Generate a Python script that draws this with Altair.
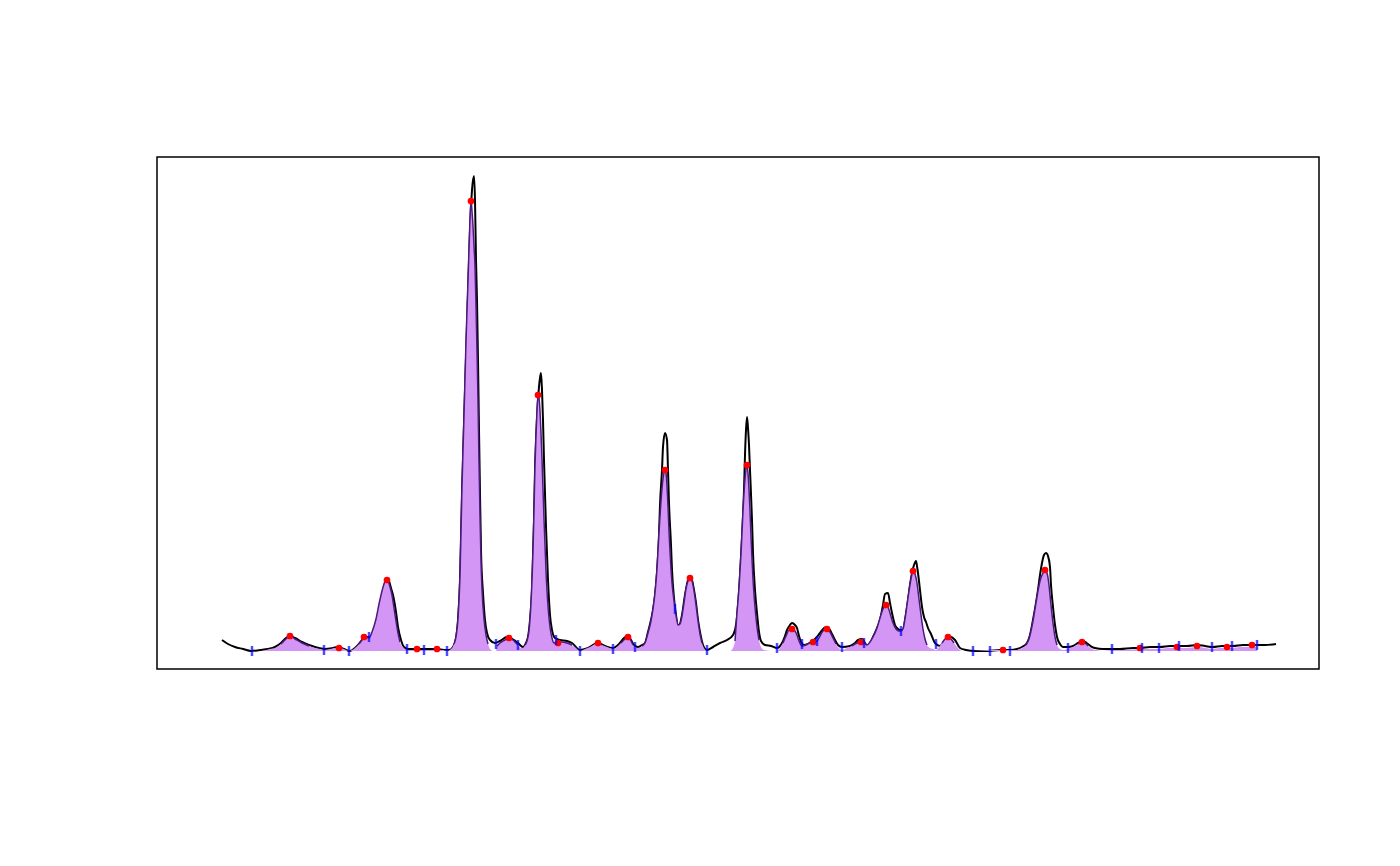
import altair as alt
import pandas as pd

# Chromatogram trace (time, signal)
time = [222,228,235,243,251,260,268,275,281,286,290,295,302,309,315,325,333,338,344,350,
        355,359,362,366,370,374,378,382,385,387,389,391,393,396,398,401,404,408,417,427,
        437,444,449,453,456,458,460,462,465,468,470,472,474,475,476,477,478,479,480,481,
        483,485,487,490,495,500,507,512,518,523,526,528,530,532,534,535,536,538,540,541,
        542,543,544,546,548,550,552,555,560,567,572,580,588,598,605,613,620,624,628,631,
        634,638,642,645,648,651,653,655,657,659,660,662,663,665,667,668,669,671,672,674,
        676,678,680,682,685,688,690,692,694,696,698,700,703,707,713,720,727,733,736,738,
        740,742,744,745,746,747,748,749,750,752,753,755,757,759,761,765,771,777,782,785,
        787,790,792,795,797,799,801,804,808,815,820,824,827,830,832,835,838,842,850,855,
        858,862,865,867,870,873,877,880,883,885,888,890,892,895,897,900,903,905,908,910,
        912,914,916,917,918,920,922,924,926,928,931,935,940,944,948,951,955,960,966,975,
        987,1000,1010,1017,1022,1027,1030,1033,1036,1038,1040,1042,1044,1046,1048,1050,1051,1053,1055,1057,
        1060,1063,1068,1073,1078,1082,1085,1088,1092,1095,1103,1110,1120,1133,1140,1150,1160,1170,1177,1187,
        1197,1205,1213,1222,1233,1243,1253,1265,1276]
signal = [11,7,4,2,0,1,2,4,8,13,15,13,9,6,4,2,3,4,2,0,
          3,7,11,14,14,21,37,56,68,72,70,63,56,39,24,11,4,2,2,2,
          2,1,1,4,13,31,71,158,261,358,421,461,475,451,391,351,291,221,158,101,
          58,31,18,11,8,10,14,12,8,4,8,14,31,61,131,181,211,251,273,278,
          261,231,191,124,71,36,21,13,11,10,8,1,3,8,5,3,8,13,15,11,
          6,4,6,8,19,31,41,56,79,116,146,181,204,218,211,181,148,106,81,53,
          36,24,27,36,56,71,74,71,61,48,31,19,6,1,4,8,11,16,26,46,
          76,114,161,196,221,234,223,206,181,131,98,61,38,19,10,6,5,3,8,15,
          21,26,28,26,23,15,9,6,7,12,18,23,24,21,17,11,6,4,5,8,
          11,12,8,5,8,14,23,31,46,57,58,48,38,26,23,21,21,31,51,66,
          78,86,90,85,78,61,44,34,29,23,17,8,5,9,14,14,11,3,1,0,
          0,1,1,2,4,8,16,31,48,61,76,88,96,98,95,84,66,44,26,14,
          7,4,4,5,8,10,9,7,4,3,2,2,2,3,3,4,4,5,5,5,
          6,5,4,5,5,6,6,6,7]

# Fitted peak envelope (time, signal)
fit_time = [262,266,270,275,281,286,290,295,302,309,315,320,324,330,335,339,344,349,355,359,
            362,364,366,369,372,376,379,382,384,386,388,390,392,394,396,398,400,403,406,412,
            417,424,430,437,443,447,451,454,456,458,460,462,464,466,468,470,471,472,473,474,
            475,476,477,478,479,480,481,482,484,486,488,490,493,496,497,500,505,509,513,516,
            518,521,523,525,527,529,531,533,534,535,536,537,538,539,540,541,542,543,544,546,
            548,550,552,554,556,558,562,567,572,576,580,585,590,595,598,602,607,613,617,621,
            625,628,631,633,635,638,642,645,648,651,653,655,657,659,661,663,665,666,667,668,
            669,670,671,672,674,675,677,678,680,682,684,686,688,690,692,694,696,698,700,702,
            704,707,730,733,735,737,739,741,743,745,746,747,748,749,750,751,752,753,755,757,
            759,761,764,772,777,780,783,786,789,792,795,797,799,801,802,806,810,813,817,820,
            823,827,830,833,836,839,842,847,852,857,861,864,867,870,873,877,880,883,886,888,
            890,893,896,899,901,903,905,907,909,911,913,915,917,919,921,923,925,927,930,933,
            936,939,942,945,948,951,954,957,960,962,973,990,1003,1010,1017,1022,1026,1029,1033,1036,
            1038,1040,1043,1045,1047,1049,1050,1051,1053,1055,1057,1060,1063,1068,1073,1078,1082,1085,1088,1092,
            1096,1103,1112,1125,1140,1150,1159,1168,1177,1187,1197,1205,1212,1220,1227,1232,1240,1246,1252,1257]
fit_signal = [0,1,2,3,7,12,15,12,8,5,3,2,1,2,3,3,2,0,3,7,
              11,14,14,13,19,32,47,60,67,71,70,64,56,43,30,18,9,4,1,1,
              1,1,1,1,1,0,2,7,14,32,75,165,235,310,370,432,450,440,425,405,
              385,345,300,250,190,135,90,62,32,16,7,2,0,0,5,8,11,13,11,8,
              6,3,3,6,10,20,48,100,140,185,215,240,256,253,240,218,192,162,132,80,
              45,24,13,8,9,9,9,8,6,3,0,2,4,7,8,6,4,2,4,8,
              12,14,10,6,3,3,5,8,18,30,42,58,82,118,150,172,181,178,165,145,
              120,100,82,68,50,42,30,26,27,35,48,62,70,73,70,60,46,30,17,8,
              3,0,0,3,10,38,63,97,140,172,182,186,178,162,140,115,92,72,44,24,
              11,4,1,0,0,3,8,15,21,22,20,16,10,6,5,6,8,9,10,15,
              20,22,19,13,7,3,1,3,5,8,9,8,6,9,14,23,33,42,46,44,
              38,28,22,20,20,22,32,46,60,72,80,77,68,52,36,22,12,6,3,2,
              1,4,8,12,14,12,8,4,1,0,0,1,1,1,1,3,6,12,30,48,
              60,70,78,81,78,66,56,46,28,14,6,2,1,2,4,7,9,8,5,2,
              1,0,1,1,2,2,2,3,3,3,4,3,2,3,3,3,4,4,4,4]

# Peak apexes
apex_time = [290,339,364,387,417,437,471,509,538,558,598,628,665,690,747,792,813,827,861,886,
             913,948,1003,1045,1082,1140,1177,1197,1227,1252]
apex_signal = [15,3,14,71,2,2,450,13,256,8,8,14,181,73,186,22,9,22,9,46,
               80,14,1,81,9,3,4,5,4,6]

# Peak boundaries
bound_time = [252,324,349,369,407,424,447,496,518,556,580,613,635,675,707,777,802,817,842,864,
              901,936,973,990,1010,1068,1112,1142,1159,1179,1212,1232,1257]
bound_signal = [0,1,0,14,2,1,0,7,6,11,0,2,4,42,1,3,7,10,4,8,
                20,7,0,0,0,3,2,3,3,5,4,5,6]

trace = pd.DataFrame({"time": time, "signal": signal})
fit = pd.DataFrame({"time": fit_time, "signal": fit_signal})
apex = pd.DataFrame({"time": apex_time, "signal": apex_signal})
bounds = pd.DataFrame({"time": bound_time, "signal": bound_signal})

# outline pieces of the fitted envelope (only where it rises off the baseline)
rows = []
piece = 0
inside = False
for t, s in zip(fit_time, fit_signal):
    if s >= 5:
        if not inside:
            piece += 1
        rows.append({"time": t, "signal": s, "piece": piece})
        inside = True
    else:
        inside = False
outline = pd.DataFrame(rows)

xs = alt.Scale(domain=[157, 1319], nice=False, zero=False)
ys = alt.Scale(domain=[-18, 494], nice=False, zero=False)
X = alt.X("time:Q", scale=xs, axis=None)
Y = alt.Y("signal:Q", scale=ys, axis=None)

black = alt.Chart(trace).mark_line(color="black", strokeWidth=2, interpolate="monotone").encode(x=X, y=Y)
fill = alt.Chart(fit).mark_area(color="#d396f5", opacity=1, interpolate="monotone").encode(
    x=X, y=Y, y2=alt.datum(0))
dark = alt.Chart(outline).mark_line(color="#4d1a7f", strokeWidth=1.5, interpolate="monotone").encode(
    x=X, y=Y, detail="piece:N")
pts = alt.Chart(apex).mark_circle(color="#ff0000", size=45, opacity=1).encode(x=X, y=Y)
ticks = alt.Chart(bounds).mark_tick(color="#0000ff", orient="vertical", size=10, thickness=2.5).encode(x=X, y=Y)

chart = alt.layer(black, fill, dark, pts, ticks).properties(
    width=1162, height=512,
    padding={"left": 149, "top": 149, "right": 60, "bottom": 180},
).configure_view(stroke="black", strokeWidth=1.5)

chart.save("out.html", embed_options={"renderer": "svg", "actions": False})
